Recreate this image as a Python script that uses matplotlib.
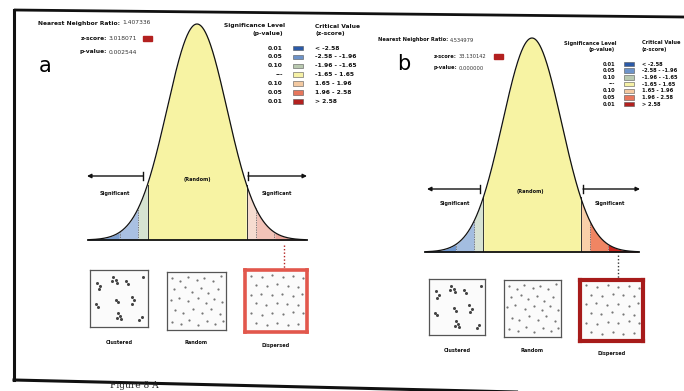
import numpy as np
import matplotlib
matplotlib.use("Agg")
import matplotlib.pyplot as plt
from matplotlib.patches import Rectangle

W, H = 684, 391

# ---------------- data ----------------
panel_labels = ["a", "b"]
nn_ratio = ["1.407336", "4.534979"]
z_score_text = ["3.018071", "33.130142"]
p_value_text = ["0.002544", "0.000000"]

sig_levels = ["0.01", "0.05", "0.10", "---", "0.10", "0.05", "0.01"]
crit_ranges = ["< -2.58", "-2.58 - -1.96", "-1.96 - -1.65", "-1.65 - 1.65",
               "1.65 - 1.96", "1.96 - 2.58", "> 2.58"]
z_bounds = [-3.6, -2.58, -1.96, -1.65, 1.65, 1.96, 2.58, 3.6]
legend_colors = ["#2b5aa8", "#6d93c9", "#b9c9b0", "#f6f1a6",
                 "#f3c9a1", "#e7765c", "#b3201f"]
curve_colors_a = ["#7d9fd0", "#a9c0e2", "#d6e3d1", "#f7f3a3",
                  "#f6dcd0", "#f2c3b8", "#eca89d"]
curve_colors_b = ["#6f97cf", "#a3bde0", "#d7e2d3", "#f7f3a3",
                  "#f9cfa9", "#f08563", "#c9261d"]
pattern_names = ["Clustered", "Random", "Dispersed"]

clustered_x = [0.12, 0.18, 0.15, 0.40, 0.45, 0.38, 0.47, 0.62, 0.66, 0.92,
               0.10, 0.14, 0.45, 0.49, 0.72, 0.76, 0.73, 0.48, 0.51, 0.46,
               0.53, 0.85, 0.89]
clustered_y = [0.78, 0.72, 0.66, 0.88, 0.83, 0.80, 0.77, 0.80, 0.75, 0.88,
               0.40, 0.35, 0.48, 0.43, 0.53, 0.47, 0.41, 0.25, 0.20, 0.16,
               0.14, 0.12, 0.17]
random_x = [0.08, 0.22, 0.35, 0.50, 0.63, 0.78, 0.92, 0.12, 0.30, 0.42, 0.58,
            0.70, 0.86, 0.06, 0.20, 0.36, 0.52, 0.66, 0.80, 0.94, 0.14, 0.27,
            0.44, 0.60, 0.74, 0.90, 0.08, 0.24, 0.38, 0.53, 0.68, 0.82, 0.95]
random_y = [0.90, 0.85, 0.92, 0.86, 0.90, 0.84, 0.93, 0.70, 0.74, 0.66, 0.72,
            0.64, 0.70, 0.52, 0.56, 0.50, 0.55, 0.47, 0.54, 0.48, 0.34, 0.30,
            0.36, 0.30, 0.36, 0.28, 0.14, 0.10, 0.18, 0.08, 0.15, 0.10, 0.16]
dispersed_x = [0.10, 0.27, 0.44, 0.61, 0.78, 0.93,
               0.18, 0.35, 0.52, 0.69, 0.86,
               0.09, 0.26, 0.43, 0.60, 0.77, 0.92,
               0.17, 0.34, 0.51, 0.68, 0.85,
               0.10, 0.27, 0.44, 0.61, 0.78, 0.93,
               0.18, 0.35, 0.52, 0.69, 0.86]
dispersed_y = [0.91, 0.88, 0.92, 0.89, 0.90, 0.87,
               0.76, 0.74, 0.77, 0.75, 0.73,
               0.60, 0.62, 0.59, 0.61, 0.58, 0.62,
               0.46, 0.44, 0.47, 0.45, 0.43,
               0.30, 0.28, 0.31, 0.29, 0.32, 0.30,
               0.14, 0.12, 0.15, 0.11, 0.13]

# ---------------- layout (pixels) ----------------
fig = plt.figure(figsize=(W / 100, H / 100), dpi=100)
fig.patch.set_facecolor("white")


def px_axes(x0, y0, x1, y1, z=1):
    return fig.add_axes([x0 / W, 1 - y1 / H, (x1 - x0) / W, (y1 - y0) / H], zorder=z)


curve_boxes = [(89, 24, 305, 240), (426, 38, 638, 252)]
curve_cols = [curve_colors_a, curve_colors_b]
z_grid = np.linspace(-3.6, 3.6, 600)
pdf = np.exp(-z_grid ** 2 / 2) / np.sqrt(2 * np.pi)
pdf_max = pdf.max()

for k in range(2):
    ax = px_axes(*curve_boxes[k])
    ax.set_xlim(-3.6, 3.6)
    ax.set_ylim(0, pdf_max)
    ax.axis("off")
    cols = curve_cols[k]
    for i in range(7):
        m = (z_grid >= z_bounds[i]) & (z_grid <= z_bounds[i + 1])
        ax.fill_between(z_grid[m], 0, pdf[m], color=cols[i], lw=0)
    for b in [-2.58, -1.96, 1.96, 2.58]:
        ax.plot([b, b], [0, np.exp(-b * b / 2) / np.sqrt(2 * np.pi)],
                color="#555555", lw=0.5, ls=(0, (2, 1.5)))
    for b in [-1.65, 1.65]:
        ax.plot([b, b], [0, np.exp(-b * b / 2) / np.sqrt(2 * np.pi)],
                color="#333333", lw=0.7)
    ax.plot(z_grid, pdf, color="#111111", lw=0.9, clip_on=False)
    ax.plot([-3.65, 3.65], [0, 0], color="#111111", lw=1.3, clip_on=False)

# thumbnails
thumb_boxes = [
    [(90, 270, 148, 327), (167, 272, 226, 330), (245, 270, 307, 332)],
    [(429, 279, 485, 335), (504, 280, 561, 337), (580, 280, 643, 341)],
]
pts = [(clustered_x, clustered_y), (random_x, random_y), (dispersed_x, dispersed_y)]
for k in range(2):
    for j in range(3):
        ax = px_axes(*thumb_boxes[k][j], z=2)
        ax.set_xlim(0, 1)
        ax.set_ylim(0, 1)
        ax.set_xticks([])
        ax.set_yticks([])
        ax.set_facecolor("#fbfbfb")
        if j == 2:
            ec = "#e2574c" if k == 0 else "#a71b1a"
            lw = 2.6 if k == 0 else 3.0
        else:
            ec, lw = "#555555", 0.9
        for s in ax.spines.values():
            s.set_color(ec)
            s.set_linewidth(lw)
        xs, ys = pts[j]
        ms = 2.2 if j == 0 else 1.6
        col = "#444444" if j == 0 else "#777777"
        ax.plot(xs, ys, "o", ms=ms, color=col, mec="none")

# overlay for text / frame / arrows
ov = fig.add_axes([0, 0, 1, 1], zorder=5)
ov.set_xlim(0, W)
ov.set_ylim(H, 0)
ov.axis("off")
ov.patch.set_alpha(0)

# frame lines
ov.plot([14, 684], [10, 17], color="#111111", lw=2.0, solid_capstyle="butt")
ov.plot([14, 14], [10, 380], color="#111111", lw=2.2)
ov.plot([14, 684], [380, 396], color="#111111", lw=2.2)
ov.text(110, 390.5, "Figure 8 A", fontsize=6.5, family="DejaVu Serif",
        ha="left", va="bottom", color="#222222")

bold = dict(fontweight="bold", color="#111111")
fs_panel = [4.3, 3.7]

stat_cfg = [
    dict(letter=(45, 66), nn=(120, 23), zs=(107, 38), pv=(107, 52), box=143),
    dict(letter=(404, 64), nn=(448, 40), zs=(457, 56), pv=(457, 68), box=494),
]
for k in range(2):
    c = stat_cfg[k]
    fs = fs_panel[k]
    ov.text(*c["letter"], panel_labels[k], fontsize=15, ha="center", va="center")
    ov.text(c["nn"][0], c["nn"][1], "Nearest Neighbor Ratio:", fontsize=fs,
            ha="right", va="center", **bold)
    ov.text(c["nn"][0] + 2, c["nn"][1], nn_ratio[k], fontsize=fs,
            ha="left", va="center", color="#333333")
    ov.text(c["zs"][0], c["zs"][1], "z-score:", fontsize=fs,
            ha="right", va="center", **bold)
    ov.text(c["zs"][0] + 2, c["zs"][1], z_score_text[k], fontsize=fs,
            ha="left", va="center", color="#333333")
    ov.add_patch(Rectangle((c["box"], c["zs"][1] - 2.5), 9, 5, color="#b3201f"))
    ov.text(c["pv"][0], c["pv"][1], "p-value:", fontsize=fs,
            ha="right", va="center", **bold)
    ov.text(c["pv"][0] + 2, c["pv"][1], p_value_text[k], fontsize=fs,
            ha="left", va="center", color="#333333")

# legends
leg_cfg = [
    dict(pr=283, sw=293, cr=315, h1=26, h2=34, r0=48, dy=8.9),
    dict(pr=615, sw=624, cr=642, h1=43, h2=50, r0=64, dy=6.7),
]
for k in range(2):
    c = leg_cfg[k]
    fs = fs_panel[k]
    ov.text(c["pr"] + 2, c["h1"], "Significance Level", fontsize=fs,
            ha="right", va="center", **bold)
    ov.text(c["pr"], c["h2"], "(p-value)", fontsize=fs, ha="right", va="center", **bold)
    ov.text(c["cr"], c["h1"], "Critical Value", fontsize=fs, ha="left", va="center", **bold)
    ov.text(c["cr"], c["h2"], "(z-score)", fontsize=fs, ha="left", va="center", **bold)
    for i in range(7):
        y = c["r0"] + i * c["dy"]
        ov.text(c["pr"], y, sig_levels[i], fontsize=fs, ha="right", va="center", **bold)
        ov.add_patch(Rectangle((c["sw"], y - 2.3), 10, 4.6, facecolor=legend_colors[i],
                               edgecolor="#555555", lw=0.4))
        ov.text(c["cr"], y, crit_ranges[i], fontsize=fs, ha="left", va="center", **bold)

# arrows & curve annotations
arrow_cfg = [
    dict(y=176, l=(87, 143), r=(248, 307), sl=(115, 193), sr=(277, 194), rnd=(197, 179)),
    dict(y=189, l=(427, 480), r=(583, 640), sl=(455, 203), sr=(610, 204), rnd=(530, 192)),
]
for c in arrow_cfg:
    y = c["y"]
    ov.annotate("", xy=(c["l"][0], y), xytext=(c["l"][1], y),
                arrowprops=dict(arrowstyle="-|>", lw=1.0, color="#111111",
                                mutation_scale=6, shrinkA=0, shrinkB=0))
    ov.plot([c["l"][1], c["l"][1]], [y - 4, y + 4], color="#111111", lw=1.0)
    ov.annotate("", xy=(c["r"][1], y), xytext=(c["r"][0], y),
                arrowprops=dict(arrowstyle="-|>", lw=1.0, color="#111111",
                                mutation_scale=6, shrinkA=0, shrinkB=0))
    ov.plot([c["r"][0], c["r"][0]], [y - 4, y + 4], color="#111111", lw=1.0)
    ov.text(*c["sl"], "Significant", fontsize=3.6, ha="center", va="center", **bold)
    ov.text(*c["sr"], "Significant", fontsize=3.6, ha="center", va="center", **bold)
    ov.text(*c["rnd"], "(Random)", fontsize=3.6, ha="center", va="center", **bold)

# dotted connectors to the dispersed box
ov.plot([284, 284], [245, 268], color="#b3201f", lw=1.0, ls=(0, (1, 1.5)))
ov.plot([618, 618], [255, 278], color="#333333", lw=1.0, ls=(0, (1, 1.5)))

# pattern labels
label_pos = [[(119, 343), (196, 343), (276, 345)], [(457, 351), (532, 351), (612, 353)]]
for k in range(2):
    for j in range(3):
        ov.text(*label_pos[k][j], pattern_names[j], fontsize=3.6,
                ha="center", va="center", **bold)

fig.savefig("out.png", dpi=100)
